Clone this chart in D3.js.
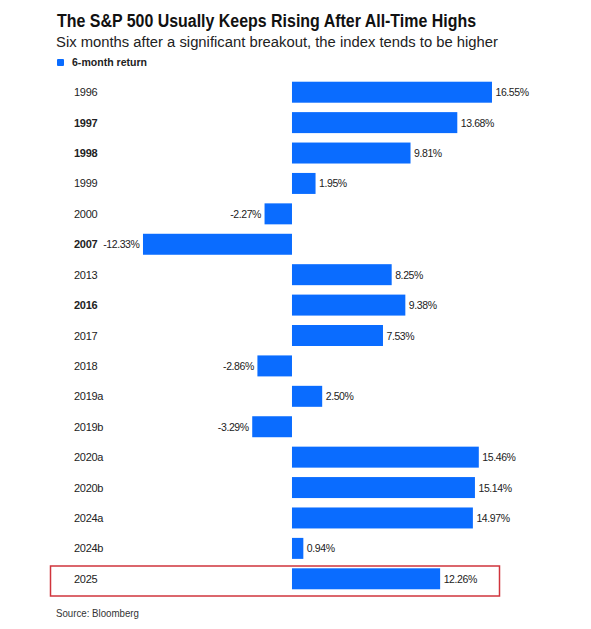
<!DOCTYPE html>
<html><head><meta charset="utf-8">
<script src="https://cdn.jsdelivr.net/npm/d3@7"></script>
<style>body{margin:0;background:#fff;} svg{display:block;font-family:"Liberation Sans",Arial,sans-serif;}</style>
</head><body>
<script>
const categories = ["1996","1997","1998","1999","2000","2007","2013","2016","2017","2018","2019a","2019b","2020a","2020b","2024a","2024b","2025"];
const returns = [16.55,13.68,9.81,1.95,-2.27,-12.33,8.25,9.38,7.53,-2.86,2.50,-3.29,15.46,15.14,14.97,0.94,12.26];
const boldCats = ["1997","1998","2007","2016"];
const highlight = "2025";

const W=591,H=629;
const svg=d3.select("body").append("svg").attr("width",W).attr("height",H);
const blue="#0a6cff";

svg.append("text").attr("x",57).attr("y",27).attr("font-size",18).attr("font-weight","bold").attr("fill","#111")
  .attr("textLength",419).attr("lengthAdjust","spacingAndGlyphs")
  .text("The S&P 500 Usually Keeps Rising After All-Time Highs");
svg.append("text").attr("x",56).attr("y",47).attr("font-size",15.5).attr("fill","#222")
  .attr("textLength",442).attr("lengthAdjust","spacingAndGlyphs")
  .text("Six months after a significant breakout, the index tends to be higher");
svg.append("rect").attr("x",57).attr("y",59).attr("width",7).attr("height",7).attr("rx",1).attr("fill",blue);
svg.append("text").attr("x",72).attr("y",65.5).attr("font-size",11.5).attr("font-weight",600).attr("fill","#222")
  .attr("textLength",75).attr("lengthAdjust","spacingAndGlyphs").text("6-month return");

const y=d3.scaleBand().domain(categories).range([77,594]).paddingInner(0.31).paddingOuter(0.155);
const x=d3.scaleLinear().domain([-14,18]).range([122.8,509.5]);

const data=categories.map((c,i)=>({c,v:returns[i]}));

// highlight box
svg.append("rect").attr("x",50.5).attr("y",566).attr("width",449).attr("height",30)
  .attr("fill","none").attr("stroke","#d0343c").attr("stroke-width",1.5);

const g=svg.append("g");
g.selectAll("rect.bar").data(data).join("rect").attr("class","bar")
  .attr("x",d=>x(Math.min(0,d.v))).attr("width",d=>Math.abs(x(d.v)-x(0)))
  .attr("y",d=>y(d.c)).attr("height",y.bandwidth()).attr("fill",blue);

g.selectAll("text.cat").data(data).join("text").attr("class","cat")
  .attr("x",74).attr("y",d=>y(d.c)+y.bandwidth()/2+4).attr("font-size",11).attr("fill","#222")
  .attr("font-weight",d=>boldCats.includes(d.c)?"bold":"normal")
  .attr("letter-spacing",-0.3)
  .text(d=>d.c);

g.selectAll("text.val").data(data).join("text").attr("class","val")
  .attr("x",d=>d.v>=0?x(d.v)+3.5:x(d.v)-3.5)
  .attr("text-anchor",d=>d.v>=0?"start":"end")
  .attr("y",d=>y(d.c)+y.bandwidth()/2+4).attr("font-size",10.5).attr("fill","#222")
  .attr("letter-spacing",-0.4)
  .text(d=>d.v.toFixed(2)+"%");

svg.append("text").attr("x",56).attr("y",617).attr("font-size",10.5).attr("fill","#333")
  .attr("textLength",83).attr("lengthAdjust","spacingAndGlyphs").text("Source: Bloomberg");
</script>
</body></html>
